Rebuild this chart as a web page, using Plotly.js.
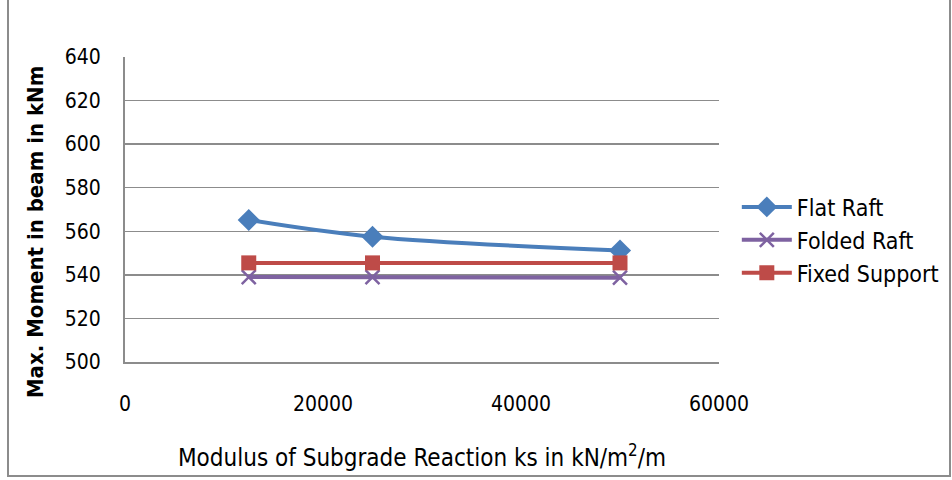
<!DOCTYPE html>
<html><head><meta charset="utf-8">
<script src="https://cdn.plot.ly/plotly-3.0.1.min.js"></script>
<style>
html,body{margin:0;padding:0;background:#fff;}
#wrap{position:relative;width:952px;height:480px;}
#chart{width:952px;height:480px;}
#frame{position:absolute;left:7px;top:-2px;width:944px;height:479px;border:2px solid #8c8c8c;box-sizing:border-box;pointer-events:none;}
</style></head>
<body>
<div id="wrap"><div id="chart"></div><div id="frame"></div></div>
<script>
const ks = [12500, 25000, 50000];
const flatRaft = [565.2, 557.5, 551.2];
const foldedRaft = [539.0, 539.0, 538.7];
const fixedSupport = [545.5, 545.5, 545.5];
const yTicks = [500, 520, 540, 560, 580, 600, 620, 640];
const xTicks = [0, 20000, 40000, 60000];
const FONT = "'Liberation Sans Narrow', 'DejaVu Sans Condensed', sans-serif";

const traces = [
  {x: ks, y: flatRaft, name: 'Flat Raft', mode: 'lines+markers',
   line: {color: '#4a7ebb', width: 4, shape: 'spline'},
   marker: {symbol: 'diamond', size: 17, color: '#4a7ebb'}},
  {x: ks, y: foldedRaft, name: 'Folded Raft', mode: 'lines+markers',
   line: {color: '#7e62a1', width: 4},
   marker: {symbol: 'x-thin', size: 14, color: '#7e62a1', line: {color: '#7e62a1', width: 2.5}}},
  {x: ks, y: fixedSupport, name: 'Fixed Support', mode: 'lines+markers',
   line: {color: '#be4b48', width: 4},
   marker: {symbol: 'square', size: 15, color: '#be4b48'}}
];

const layout = {
  width: 952, height: 480,
  margin: {l: 125, r: 233, t: 57, b: 118, autoexpand: false},
  paper_bgcolor: '#fff', plot_bgcolor: '#fff',
  font: {family: FONT, size: 20, color: '#000'},
  showlegend: true,
  legend: {x: 1.03, y: 0.40, xanchor: 'left', yanchor: 'middle',
    font: {family: FONT, size: 23, color: '#000'}, itemwidth: 50,
    bgcolor: 'rgba(0,0,0,0)', tracegroupgap: 0},
  xaxis: {range: [0, 60000], tickvals: xTicks, ticktext: xTicks.map(String),
    showgrid: false, zeroline: false, showline: true, linecolor: '#8c8c8c', linewidth: 2,
    ticks: '', ticklen: 0, tickfont: {family: FONT, size: 21}, ticklabelstandoff: 22,
    title: {text: 'Modulus of Subgrade Reaction ks in kN/m<sup>2</sup>/m', font: {family: FONT, size: 24}, standoff: 34}},
  yaxis: {range: [500, 640], tickvals: yTicks, ticktext: yTicks.map(String),
    showgrid: true, gridcolor: '#8c8c8c', gridwidth: 1.5, zeroline: false,
    showline: true, linecolor: '#8c8c8c', linewidth: 2, ticks: '',
    tickfont: {family: FONT, size: 21}, ticklabelstandoff: 18},
  annotations: [{text: '<b>Max. Moment in beam in kNm</b>', textangle: -90,
    xref: 'paper', yref: 'paper', x: -0.1515, y: 0.426, xanchor: 'center', yanchor: 'middle',
    showarrow: false, font: {family: FONT, size: 22, color: '#000'}}]
};

Plotly.newPlot('chart', traces, layout, {displayModeBar: false, staticPlot: true});
</script>
</body></html>
